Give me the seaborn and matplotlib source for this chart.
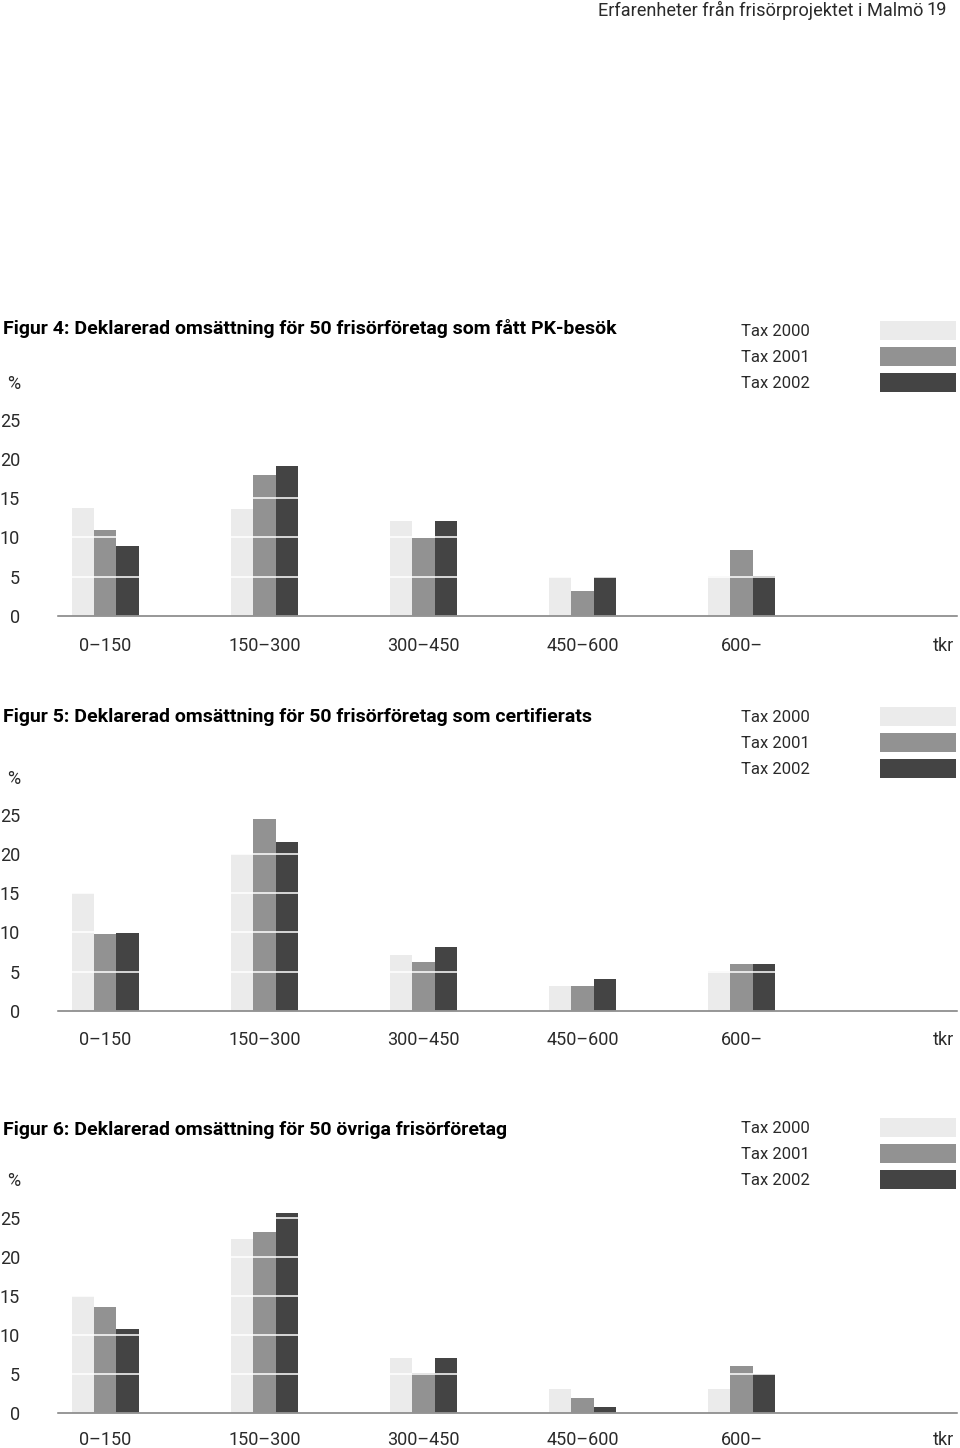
import matplotlib
matplotlib.use("Agg")
import matplotlib.pyplot as plt
import pandas as pd
import seaborn as sns

# omsättningsklasser (tkr) och deklarationsår
categories = ["0–150", "150–300", "300–450", "450–600", "600–"]
years = ["Tax 2000", "Tax 2001", "Tax 2002"]
yticks = [0, 5, 10, 15, 20, 25]

# Figur 4: PK-besök
fig4_2000 = [13.8, 13.6, 12.1, 4.9, 5.1]
fig4_2001 = [11.0, 18.0, 9.9, 3.1, 8.4]
fig4_2002 = [8.9, 19.1, 12.1, 4.9, 5.1]

# Figur 5: certifierade
fig5_2000 = [15.0, 20.0, 7.1, 3.1, 5.1]
fig5_2001 = [9.8, 24.5, 6.2, 3.1, 6.0]
fig5_2002 = [9.9, 21.6, 8.1, 4.0, 6.0]

# Figur 6: övriga
fig6_2000 = [15.0, 22.3, 7.1, 3.1, 3.1]
fig6_2001 = [13.6, 23.1, 5.1, 1.9, 6.0]
fig6_2002 = [10.8, 25.6, 7.0, 0.8, 5.0]

titles = [
    "Figur 4: Deklarerad omsättning för 50 frisörföretag som fått PK-besök",
    "Figur 5: Deklarerad omsättning för 50 frisörföretag som certifierats",
    "Figur 6: Deklarerad omsättning för 50 övriga frisörföretag",
]

colors = ["#ebebeb", "#929292", "#444444"]
text_col = "#2a2a2a"

sns.set_theme(style="white")
plt.rcParams["font.family"] = ["Roboto", "DejaVu Sans"]

W, H = 960, 1448
fig = plt.figure(figsize=(W / 100, H / 100), dpi=100)

px_per_unit = 7.83
ymax = 27


def to_df(series):
    rows = []
    for year, vals in zip(years, series):
        for cat, v in zip(categories, vals):
            rows.append({"klass": cat, "år": year, "andel": v})
    return pd.DataFrame(rows)


# (titel, serier, baslinje px, titel px, legend-topp px, x-etikett pad pt)
panels = [
    (titles[0], [fig4_2000, fig4_2001, fig4_2002], 615.7, 329, 321, 15.5),
    (titles[1], [fig5_2000, fig5_2001, fig5_2002], 1010.7, 717, 707, 14.5),
    (titles[2], [fig6_2000, fig6_2001, fig6_2002], 1413.3, 1130, 1118, 13.0),
]

for title, series, base_y, title_y, leg_top, xpad in panels:
    ax = fig.add_axes([58 / W, 1 - base_y / H, (956.7 - 58) / W, ymax * px_per_unit / H])
    sns.barplot(data=to_df(series), x="klass", y="andel", hue="år",
                order=categories, hue_order=years, palette=colors,
                width=0.423, gap=0, saturation=1, linewidth=0, ax=ax)
    ax.set_xlim(-0.297, 5.353)
    ax.set_ylim(0, ymax)
    ax.set_yticks(yticks)
    ax.set_xlabel("")
    ax.set_ylabel("")

    # vita stödlinjer ovanpå staplarna
    ax.grid(axis="y", color="white", linewidth=1.1)
    ax.grid(axis="x", visible=False)
    ax.set_axisbelow(False)

    for side in ["left", "top", "right"]:
        ax.spines[side].set_visible(False)
    ax.spines["bottom"].set_color("#7a7a7a")
    ax.spines["bottom"].set_linewidth(1.1)
    ax.spines["bottom"].set_zorder(3)

    ax.tick_params(axis="both", length=0, labelsize=13, colors=text_col)
    ax.tick_params(axis="y", pad=27.4)
    ax.tick_params(axis="x", pad=xpad)

    ax.annotate("%", xy=(0, 25), xycoords=("axes fraction", "data"),
                xytext=(-27.4, 27.4), textcoords="offset points",
                ha="right", va="center_baseline", fontsize=13, color=text_col)
    ax.annotate("tkr", xy=(1, 0), xycoords="axes fraction",
                xytext=(-2, -xpad), textcoords="offset points",
                ha="right", va="top", fontsize=13, color=text_col)

    handles, labels = ax.get_legend_handles_labels()
    leg = ax.legend(handles, labels, loc="upper right",
                    bbox_to_anchor=(956 / W, 1 - leg_top / H),
                    bbox_transform=fig.transFigure, frameon=False,
                    markerfirst=False, fontsize=12, handlelength=4.56,
                    handleheight=1.38, handletextpad=4.2, labelspacing=0.42,
                    borderpad=0, borderaxespad=0)
    for t in leg.get_texts():
        t.set_color(text_col)

    fig.text(3 / W, 1 - title_y / H, title, ha="left", va="center",
             fontsize=14, fontweight="bold", color="black")

fig.text(598 / W, 1 - 10 / H, "Erfarenheter från frisörprojektet i Malmö",
         ha="left", va="center", fontsize=13.1, color=text_col)
fig.text(947 / W, 1 - 10 / H, "19", ha="right", va="center",
         fontsize=13.1, color=text_col)

fig.savefig("out.png", dpi=100)
